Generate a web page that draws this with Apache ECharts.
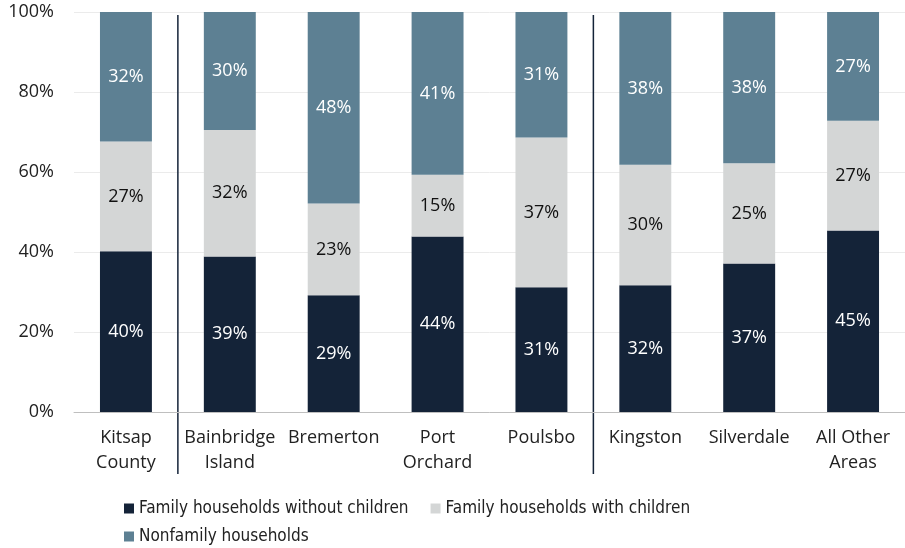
<!DOCTYPE html>
<html>
<head>
<meta charset="utf-8">
<script src="https://cdn.jsdelivr.net/npm/echarts@6/dist/echarts.min.js"></script>
<style>
  html, body { margin: 0; padding: 0; background: #fff; }
  #chart { width: 905px; height: 548px; }
</style>
</head>
<body>
<div id="chart"></div>
<script>
const categories = ['Kitsap\nCounty', 'Bainbridge\nIsland', 'Bremerton', 'Port\nOrchard',
  'Poulsbo', 'Kingston', 'Silverdale', 'All Other\nAreas'];
const noChildren = [40.2, 38.9, 29.2, 43.9, 31.2, 31.7, 37.1, 45.4];
const withChildren = [27.4, 31.6, 22.9, 15.4, 37.4, 30.1, 25.1, 27.4];
const nonfamily = [32.4, 29.5, 47.9, 40.7, 31.4, 38.2, 37.8, 27.2];
const seriesNames = ['Family households without children', 'Family households with children', 'Nonfamily households'];
// separators sit after these category indexes
const dividersAfter = [0, 4];

const axisFont = 'Open Sans';
const legendFont = "'Liberation Sans Narrow', 'DejaVu Sans Condensed', sans-serif";

const chart = echarts.init(document.getElementById('chart'));

function bar(name, data, color, labelColor) {
  return {
    name: name,
    type: 'bar',
    stack: 'total',
    data: data,
    barWidth: '50%',
    itemStyle: { color: color },
    label: {
      show: true,
      position: 'inside',
      color: labelColor,
      fontFamily: axisFont,
      fontSize: 18,
      formatter: p => Math.round(p.value) + '%'
    }
  };
}

const legendText = { fontFamily: legendFont, fontSize: 17, color: '#222' };

chart.setOption({
  animation: false,
  grid: { left: 74, right: 0, top: 12, bottom: 136 },
  xAxis: {
    type: 'category',
    data: categories,
    axisTick: { show: false },
    axisLine: { lineStyle: { color: '#BFBFBF', width: 1 } },
    axisLabel: {
      color: '#222',
      fontFamily: axisFont,
      fontSize: 18,
      lineHeight: 25,
      margin: 13,
      interval: 0
    }
  },
  yAxis: {
    type: 'value',
    min: 0,
    max: 100,
    interval: 20,
    axisLabel: {
      color: '#222',
      fontFamily: axisFont,
      fontSize: 18,
      margin: 20,
      formatter: v => v + '%'
    },
    splitLine: { lineStyle: { color: '#EBEBEB', width: 1 } }
  },
  legend: [
    {
      data: seriesNames.slice(0, 2),
      left: 124,
      top: 500,
      padding: 0,
      icon: 'rect',
      itemWidth: 10,
      itemHeight: 10,
      itemGap: 22,
      textStyle: legendText
    },
    {
      data: seriesNames.slice(2),
      left: 124,
      top: 528,
      padding: 0,
      icon: 'rect',
      itemWidth: 10,
      itemHeight: 10,
      textStyle: legendText
    }
  ],
  series: [
    bar(seriesNames[0], noChildren, '#142338', '#fff'),
    bar(seriesNames[1], withChildren, '#D4D6D6', '#111'),
    bar(seriesNames[2], nonfamily, '#5D8093', '#fff')
  ]
});

// vertical divider lines between category groups
const plotTop = chart.convertToPixel({ yAxisIndex: 0 }, 100);
chart.setOption({
  graphic: dividersAfter.map(i => {
    const x = (chart.convertToPixel({ xAxisIndex: 0 }, i) + chart.convertToPixel({ xAxisIndex: 0 }, i + 1)) / 2;
    return {
      type: 'line',
      shape: { x1: x, y1: plotTop + 3, x2: x, y2: 474 },
      style: { stroke: '#142338', lineWidth: 1.5 }
    };
  })
});
</script>
</body>
</html>
